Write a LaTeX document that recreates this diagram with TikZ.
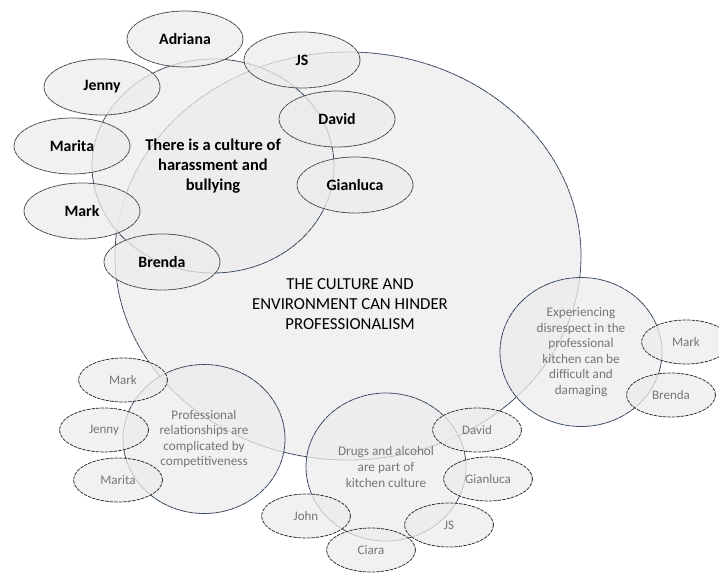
\documentclass[tikz,border=0pt]{standalone}
\usepackage{fontspec}
\setmainfont{Carlito}
\usetikzlibrary{shapes.geometric}
\definecolor{rim}{HTML}{3A4A60}
\definecolor{shade}{HTML}{ECECEC}
\definecolor{softtext}{HTML}{767676}
\begin{document}
\begin{tikzpicture}[x=1pt, y=-1pt, line cap=round, line join=round,
  theme/.style={ellipse, draw=rim, line width=0.8pt, dash pattern=on 6pt off 1pt,
    fill=shade, fill opacity=0.75, text opacity=1, inner sep=0pt, align=center},
  person/.style={ellipse, draw=black!70, line width=0.8pt, dash pattern=on 4pt off 1pt,
    fill=shade, fill opacity=0.75, text opacity=1, inner sep=0pt,
    minimum width=116, minimum height=56, font=\fontsize{15.8}{19}\selectfont\bfseries},
  minor/.style={ellipse, draw=black!80, line width=0.8pt, dash pattern=on 3pt off 1.5pt,
    fill=shade, fill opacity=0.75, text opacity=1, inner sep=0pt, text=softtext,
    minimum width=89, minimum height=44, font=\fontsize{13}{15.5}\selectfont}]
\useasboundingbox (0,0) rectangle (719,572);

% Main theme
\node[theme, minimum width=466, minimum height=408] (main) at (348,256) {};
\node[align=center, font=\fontsize{16.8}{20}\selectfont] (maintext) at (350,304)
  {THE CULTURE AND\\ENVIRONMENT CAN HINDER\\PROFESSIONALISM};

% Sub themes
\node[theme, minimum width=242, minimum height=214, font=\fontsize{16.5}{20}\selectfont\bfseries]
  (bully) at (213,166) {There is a culture of\\harassment and\\bullying};
\node[theme, minimum width=162, minimum height=149, text=softtext, font=\fontsize{13.2}{15.6}\selectfont]
  (compete) at (204,439) {Professional\\relationships are\\complicated by\\competitiveness};
\node[theme, minimum width=160, minimum height=148, text=softtext, font=\fontsize{13.2}{15.6}\selectfont]
  (drugs) at (386,467) {Drugs and alcohol\\are part of\\kitchen culture};
\node[theme, minimum width=162, minimum height=149, text=softtext, font=\fontsize{13.2}{15.6}\selectfont]
  (respect) at (581,352) {Experiencing\\disrespect in the\\professional\\kitchen can be\\difficult and\\damaging};

% Participants: harassment and bullying
\node[person] (bAdriana) at (185,39) {Adriana};
\node[person] (bJS) at (302,60) {JS};
\node[person] (bJenny) at (102,87) {Jenny};
\node[person] (bDavid) at (337,119) {David};
\node[person] (bMarita) at (72,146) {Marita};
\node[person] (bGianluca) at (355,185) {Gianluca};
\node[person] (bMark) at (82,211) {Mark};
\node[person] (bBrenda) at (162,262) {Brenda};

% Participants: competitiveness
\node[minor] (cMark) at (123,380) {Mark};
\node[minor] (cJenny) at (104,430) {Jenny};
\node[minor] (cMarita) at (118,480) {Marita};

% Participants: drugs and alcohol
\node[minor] (dDavid) at (477,430) {David};
\node[minor] (dGianluca) at (488,479) {Gianluca};
\node[minor] (dJS) at (449,525) {JS};
\node[minor] (dJohn) at (306,516) {John};
\node[minor] (dCiara) at (371,550) {Ciara};

% Participants: disrespect
\node[minor] (rMark) at (686,342) {Mark};
\node[minor] (rBrenda) at (671,395) {Brenda};

\end{tikzpicture}
\end{document}
